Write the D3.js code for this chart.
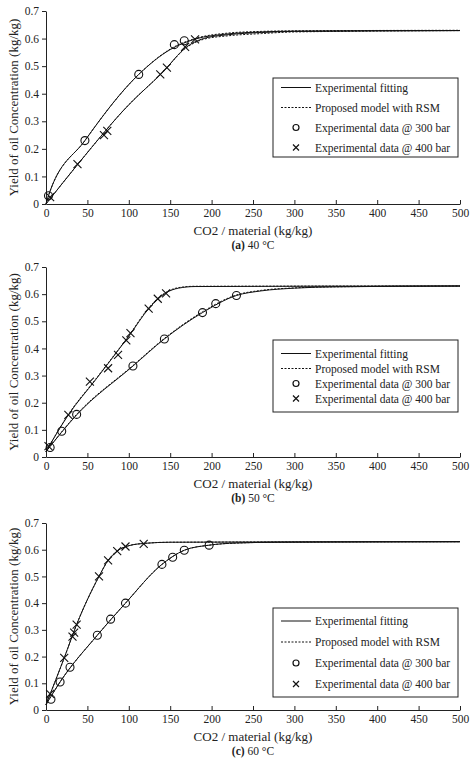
<!DOCTYPE html><html><head><meta charset="utf-8">
<script src="https://cdn.jsdelivr.net/npm/d3@7"></script>
<style>body{margin:0;background:#fff}text{font-family:"Liberation Serif","DejaVu Serif",serif;fill:#222}</style>
</head><body><svg id="c" width="474" height="772"></svg><script>
const xTicks=[0,50,100,150,200,250,300,350,400,450,500];
const yTicks=[0,0.1,0.2,0.3,0.4,0.5,0.6,0.7];
const legendLabels=["Experimental fitting","Proposed model with RSM","Experimental data @ 300 bar","Experimental data @ 400 bar"];
const captions=["(a) 40 °C","(b) 50 °C","(c) 60 °C"];
// panel a
const a300=[[3,0.03],[47,0.23],[112,0.47],[155,0.578],[167,0.592]];
const a400=[[5,0.025],[38,0.145],[70,0.25],[74,0.265],[138,0.47],[146,0.495],[168,0.57],[180,0.597]];
const aFit300=[[0,0],[3,0.03],[47,0.23],[112,0.47],[150,0.56],[180,0.598],[220,0.617],[260,0.624],[300,0.627],[500,0.629]];
const aFit400=[[0,0],[40,0.15],[100,0.36],[140,0.475],[170,0.57],[190,0.6],[220,0.614],[260,0.622],[300,0.626],[500,0.629]];
const aMod300=[[0,0],[3,0.03],[47,0.23],[112,0.47],[150,0.562],[180,0.6],[220,0.62],[260,0.626],[300,0.628],[500,0.63]];
const aMod400=[[0,0],[40,0.15],[100,0.36],[140,0.475],[170,0.568],[190,0.597],[220,0.61],[260,0.618],[300,0.624],[500,0.629]];
// panel b
const b300=[[5,0.035],[19,0.095],[37,0.157],[105,0.335],[143,0.435],[189,0.532],[205,0.565],[230,0.595]];
const b400=[[3,0.04],[27,0.155],[53,0.278],[75,0.327],[87,0.376],[97,0.43],[102,0.456],[124,0.547],[135,0.583],[145,0.603]];
const bFit300=[[0,0.02],[37,0.155],[105,0.335],[143,0.435],[189,0.532],[230,0.595],[260,0.612],[300,0.622],[350,0.627],[500,0.63]];
const bFit400=[[0,0.02],[27,0.155],[60,0.285],[100,0.445],[125,0.55],[145,0.605],[160,0.622],[180,0.628],[500,0.63]];
const bMod300=[[0,0.02],[37,0.157],[105,0.337],[143,0.437],[189,0.535],[230,0.597],[260,0.614],[300,0.623],[350,0.627],[500,0.63]];
const bMod400=[[0,0.02],[27,0.157],[60,0.287],[100,0.447],[125,0.553],[145,0.607],[160,0.624],[180,0.629],[500,0.63]];
// panel c
const c300=[[6,0.04],[17,0.105],[29,0.16],[62,0.28],[78,0.34],[96,0.4],[140,0.545],[153,0.572],[167,0.598],[197,0.617]];
const c400=[[5,0.06],[22,0.195],[32,0.275],[34,0.29],[37,0.32],[64,0.5],[75,0.56],[86,0.595],[96,0.612],[118,0.622]];
const cFit300=[[0,0.02],[17,0.105],[62,0.28],[96,0.4],[140,0.545],[167,0.598],[197,0.617],[230,0.625],[280,0.628],[500,0.63]];
const cFit400=[[0,0.02],[22,0.195],[37,0.32],[64,0.5],[75,0.56],[86,0.595],[100,0.615],[120,0.624],[150,0.628],[500,0.63]];
const cMod300=cFit300, cMod400=cFit400;

const panels=[
 {top:11,bot:204,leg:[273,78,185,79],legGap:20,pts:[a300,a400],fit:[aFit300,aFit400],mod:[aMod300,aMod400]},
 {top:267,bot:457,leg:[273,340,185,72],legGap:15,pts:[b300,b400],fit:[bFit300,bFit400],mod:[bMod300,bMod400]},
 {top:523,bot:710,leg:[273,608,185,89],legGap:21,pts:[c300,c400],fit:[cFit300,cFit400],mod:[cMod300,cMod400]}
];
const svg=d3.select("#c");
const x=d3.scaleLinear().domain([0,500]).range([46,460]);
panels.forEach((p,i)=>{
 const y=d3.scaleLinear().domain([0,0.7]).range([p.bot,p.top]);
 const g=svg.append("g");
 const xa=g.append("g").attr("transform",`translate(0,${p.bot})`).call(d3.axisBottom(x).tickValues(xTicks).tickSizeInner(-4).tickSizeOuter(0).tickPadding(5));
 const ya=g.append("g").attr("transform",`translate(46,0)`).call(d3.axisLeft(y).tickValues(yTicks).tickFormat(d=>d===0?"0":d3.format(".1f")(d)).tickSize(4).tickSizeOuter(0));
 [xa,ya].forEach(a=>{a.selectAll("text").style("font-size","11.5px").attr("fill","#222");a.selectAll("line,path").attr("stroke","#222");});
 g.append("text").attr("transform",`translate(13,${(p.top+p.bot)/2}) rotate(-90)`).attr("text-anchor","middle").attr("dy","0.35em").style("font-size","13px").text("Yield of oil Concentration (kg/kg)");
 g.append("text").attr("x",253).attr("y",p.bot+31).attr("text-anchor","middle").style("font-size","13px").text("CO2 / material (kg/kg)");
 const cp=captions[i];
 const ct=g.append("text").attr("x",253).attr("y",p.bot+45).attr("text-anchor","middle").style("font-size","11.5px");
 ct.append("tspan").attr("font-weight","bold").text(cp.slice(0,3));ct.append("tspan").text(cp.slice(3));
 const line=d3.line().x(d=>x(d[0])).y(d=>y(d[1])).curve(d3.curveMonotoneX);
 p.fit.forEach(s=>g.append("path").attr("d",line(s)).attr("fill","none").attr("stroke","#111").attr("stroke-width",1));
 p.mod.forEach(s=>g.append("path").attr("d",line(s)).attr("fill","none").attr("stroke","#111").attr("stroke-width",1).attr("stroke-dasharray","2,1.5"));
 g.selectAll(".o").data(p.pts[0]).join("circle").attr("cx",d=>x(d[0])).attr("cy",d=>y(d[1])).attr("r",4).attr("fill","none").attr("stroke","#111").attr("stroke-width",1.1);
 g.selectAll(".x").data(p.pts[1]).join("path").attr("d",d=>{const cx=x(d[0]),cy=y(d[1]),s=4;return `M${cx-s},${cy-s}L${cx+s},${cy+s}M${cx-s},${cy+s}L${cx+s},${cy-s}`;}).attr("stroke","#111").attr("stroke-width",1.1);
 const [lx,ly,lw,lh]=p.leg;
 const L=g.append("g");
 L.append("rect").attr("x",lx).attr("y",ly).attr("width",lw).attr("height",lh).attr("fill","#fff").attr("stroke","#222").attr("stroke-width",1);
 const y0=ly+(lh-3*p.legGap)/2;
 legendLabels.forEach((t,k)=>{
  const yy=y0+k*p.legGap;
  if(k===0)L.append("line").attr("x1",lx+8).attr("x2",lx+38).attr("y1",yy).attr("y2",yy).attr("stroke","#111");
  if(k===1)L.append("line").attr("x1",lx+8).attr("x2",lx+38).attr("y1",yy).attr("y2",yy).attr("stroke","#111").attr("stroke-dasharray","2,1.5");
  if(k===2)L.append("circle").attr("cx",lx+23).attr("cy",yy).attr("r",3).attr("fill","none").attr("stroke","#111").attr("stroke-width",1.2);
  if(k===3)L.append("path").attr("d",`M${lx+20},${yy-3}L${lx+26},${yy+3}M${lx+20},${yy+3}L${lx+26},${yy-3}`).attr("stroke","#111").attr("stroke-width",1.2);
  L.append("text").attr("x",lx+42).attr("y",yy).attr("dy","0.35em").style("font-size","11.5px").text(t);
 });
});
</script></body></html>
